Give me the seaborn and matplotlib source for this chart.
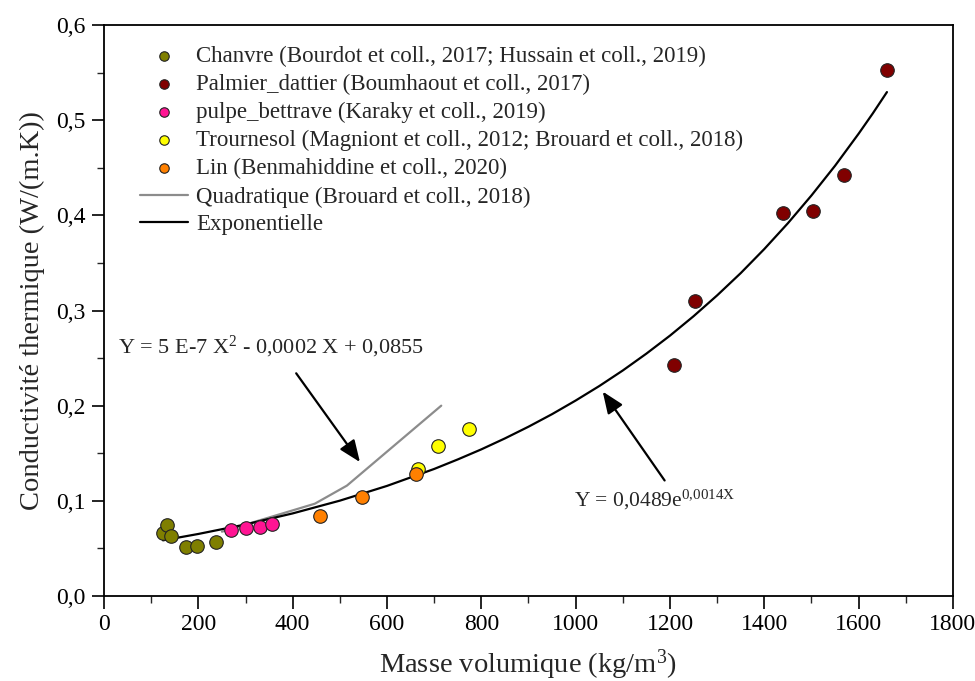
import matplotlib
matplotlib.use("Agg")
import matplotlib.pyplot as plt
import pandas as pd
import seaborn as sns

# données
chanvre_x = [124, 133, 142, 174, 198, 237]
chanvre_y = [0.0665, 0.0745, 0.0635, 0.052, 0.053, 0.057]
palmier_x = [1209, 1254, 1439, 1503, 1569, 1661]
palmier_y = [0.243, 0.310, 0.402, 0.405, 0.442, 0.553]
pulpe_x = [270, 301, 330, 357]
pulpe_y = [0.069, 0.071, 0.072, 0.076]
tournesol_x = [666, 709, 773]
tournesol_y = [0.133, 0.158, 0.176]
lin_x = [457, 546, 661]
lin_y = [0.084, 0.104, 0.128]

quad_x = [250, 447, 515, 715]
quad_y = [0.0676, 0.097, 0.116, 0.200]
expo_x = [125, 200, 300, 400, 500, 600, 700, 750, 800, 850, 900, 950, 1000, 1050, 1100,
          1150, 1200, 1250, 1300, 1350, 1400, 1450, 1500, 1550, 1600, 1630, 1660]
expo_y = [0.0585, 0.0652, 0.0752, 0.0868, 0.1002, 0.1157, 0.1335, 0.1435, 0.1541, 0.1656,
          0.1779, 0.1911, 0.2054, 0.2206, 0.2370, 0.2547, 0.2736, 0.2940, 0.3159, 0.3393,
          0.3646, 0.3917, 0.4209, 0.4521, 0.4858, 0.5071, 0.5295]

x_ticks = [0, 200, 400, 600, 800, 1000, 1200, 1400, 1600, 1800]
y_ticks = [0.0, 0.1, 0.2, 0.3, 0.4, 0.5, 0.6]

groups = [
    ("Chanvre (Bourdot et coll., 2017; Hussain et coll., 2019)", chanvre_x, chanvre_y, "#7f7f00"),
    ("Palmier_dattier (Boumhaout et coll., 2017)", palmier_x, palmier_y, "#800000"),
    ("pulpe_bettrave (Karaky et coll., 2019)", pulpe_x, pulpe_y, "#ff1493"),
    ("Trournesol (Magniont et coll., 2012; Brouard et coll., 2018)", tournesol_x, tournesol_y, "#ffff00"),
    ("Lin (Benmahiddine et coll., 2020)", lin_x, lin_y, "#ff8000"),
]

sns.set_theme(style="ticks")
plt.rcParams["font.family"] = ["Liberation Serif", "DejaVu Serif"]
plt.rcParams["mathtext.fontset"] = "custom"
plt.rcParams["mathtext.rm"] = "Liberation Serif"
plt.rcParams["mathtext.it"] = "Liberation Serif:italic"

fig = plt.figure(figsize=(9.75, 6.81), dpi=100)
ax = fig.add_axes([0.1067, 0.1248, 0.8707, 0.8385])

# courbes de tendance
sns.lineplot(x=quad_x, y=quad_y, ax=ax, color="#8c8c8c", linewidth=1.6, sort=False,
             label="Quadratique (Brouard et coll., 2018)", zorder=2)
sns.lineplot(x=expo_x, y=expo_y, ax=ax, color="black", linewidth=1.6, sort=False,
             label="Exponentielle", zorder=2)

# points
for name, xs, ys, col in groups:
    df = pd.DataFrame({"x": xs, "y": ys})
    sns.scatterplot(data=df, x="x", y="y", ax=ax, color=col, s=95, edgecolor="#222222",
                    linewidth=0.8, label=name, zorder=3)

ax.set_xlim(0, 1800)
ax.set_ylim(0, 0.6)
ax.set_xticks(x_ticks)
ax.set_yticks(y_ticks)
ax.set_xticks(range(100, 1800, 200), minor=True)
ax.set_yticks([0.05, 0.15, 0.25, 0.35, 0.45, 0.55], minor=True)
ax.set_xticklabels([str(v) for v in x_ticks])
ax.set_yticklabels([f"{v:.1f}".replace(".", ",") for v in y_ticks])
ax.tick_params(axis="both", which="major", direction="out", length=9, width=1.2, pad=4,
               labelsize=17, colors="black", top=False, right=False)
ax.tick_params(axis="both", which="minor", direction="out", length=5, width=1.0)
for sp in ax.spines.values():
    sp.set_linewidth(1.3)
    sp.set_color("black")

ax.set_xlabel("Masse volumique (kg/m$^3$)", fontsize=20.5, labelpad=9)
ax.set_ylabel("Conductivité thermique (W/(m.K))", fontsize=20.5, labelpad=8)

# annotations des équations
ax.annotate("", xy=(546, 0.1384), xytext=(404, 0.2364),
            arrowprops=dict(arrowstyle="-|>,head_length=1.1,head_width=0.45", color="black", lw=1.6))
ax.text(30, 0.262, "Y = 5 E-7 X$^{2}$ - 0,0002 X + 0,0855", fontsize=16, ha="left", va="center")
ax.annotate("", xy=(1054, 0.2172), xytext=(1192, 0.119),
            arrowprops=dict(arrowstyle="-|>,head_length=1.1,head_width=0.45", color="black", lw=1.6))
ax.text(997, 0.101, "Y = 0,0489e$^{\\mathrm{0{,}0014X}}$", fontsize=15.5, ha="left", va="center")

# légende
handles, labels = ax.get_legend_handles_labels()
order = [2, 3, 4, 5, 6, 0, 1]
ax.legend([handles[i] for i in order], [labels[i] for i in order], loc="upper left",
          bbox_to_anchor=(0.026, 0.987), frameon=False, fontsize=16.5, markerscale=0.7,
          handlelength=2.1, handletextpad=0.35, labelspacing=0.3, borderaxespad=0.2)

fig.savefig("out.png", dpi=100)
